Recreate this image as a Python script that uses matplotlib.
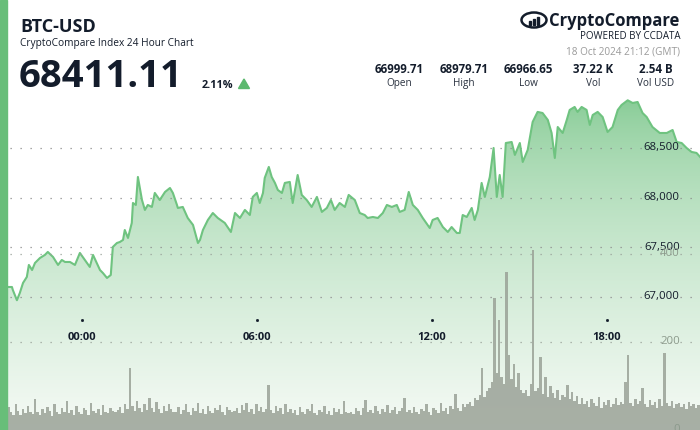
import numpy as np
import matplotlib.pyplot as plt
from matplotlib.patches import Rectangle, Polygon, Ellipse
from matplotlib.colors import to_rgb

plt.rcParams['font.family'] = ['Open Sans', 'DejaVu Sans']

# hours relative to 00:00 GMT on 18 Oct 2024 (chart ends 21:12)
hours = [-2.81, -2.57, -2.40, -2.37, -2.23, -2.13, -2.02, -1.89, -1.82, -1.71,
         -1.61, -1.44, -1.27, -1.17, -0.99, -0.82, -0.69, -0.58, -0.41, -0.24,
         -0.07, 0.10, 0.27, 0.38, 0.51, 0.62, 0.72, 0.86, 0.99, 1.06,
         1.20, 1.30, 1.41, 1.47, 1.58, 1.71, 1.75, 1.85, 1.92, 2.06,
         2.16, 2.26, 2.40, 2.50, 2.67, 2.85, 3.02, 3.12, 3.26, 3.29,
         3.46, 3.63, 3.81, 3.98, 4.05, 4.15, 4.32, 4.49, 4.66, 4.90,
         5.11, 5.25, 5.42, 5.59, 5.76, 5.86, 6.00, 6.10, 6.21, 6.27,
         6.41, 6.51, 6.62, 6.72, 6.86, 6.96, 7.13, 7.23, 7.40, 7.54,
         7.71, 7.88, 8.06, 8.23, 8.40, 8.54, 8.67, 8.84, 9.02, 9.15,
         9.36, 9.53, 9.70, 9.80, 9.98, 10.15, 10.32, 10.46, 10.63, 10.80,
         10.90, 11.07, 11.21, 11.35, 11.52, 11.69, 11.93, 12.03, 12.20, 12.38,
         12.55, 12.68, 12.86, 12.96, 13.06, 13.20, 13.37, 13.47, 13.58, 13.71,
         13.82, 13.99, 14.12, 14.23, 14.33, 14.43, 14.54, 14.74, 14.85, 15.02,
         15.12, 15.29, 15.46, 15.63, 15.80, 15.98, 16.11, 16.22, 16.32, 16.49,
         16.63, 16.73, 16.90, 17.00, 17.14, 17.31, 17.42, 17.52, 17.69, 17.86,
         18.03, 18.20, 18.38, 18.51, 18.72, 18.89, 19.06, 19.23, 19.37, 19.57,
         19.82, 20.06, 20.26, 20.40, 20.57, 20.74, 20.91, 21.08, 21.20]
prices = [67000, 67100, 67100, 67070, 66967, 67040, 67141, 67201, 67322, 67271,
          67342, 67392, 67423, 67453, 67402, 67322, 67372, 67352, 67352, 67322,
          67443, 67372, 67302, 67423, 67342, 67271, 67241, 67191, 67221, 67503,
          67543, 67553, 67574, 67674, 67594, 67745, 67946, 67926, 68208, 67976,
          67876, 67926, 67906, 68047, 67976, 68057, 68097, 68047, 67926, 67896,
          67906, 67795, 67725, 67543, 67574, 67674, 67775, 67845, 67795, 67745,
          67654, 67845, 67795, 67876, 67825, 68007, 68047, 67946, 68047, 68198,
          68309, 68208, 68148, 68077, 68047, 68148, 68158, 67946, 68228, 68027,
          67976, 67906, 68007, 67856, 67896, 67976, 67876, 67946, 67906, 68027,
          67976, 67845, 67825, 67795, 67805, 67795, 67845, 67926, 67906, 67926,
          67856, 67876, 68057, 67926, 67876, 67795, 67694, 67775, 67795, 67704,
          67654, 67704, 67644, 67644, 67825, 67805, 67896, 67775, 67876, 68148,
          68007, 68208, 68500, 68007, 68228, 68007, 68550, 68560, 68430, 68550,
          68359, 68480, 68762, 68863, 68852, 68782, 68651, 68399, 68711, 68651,
          68782, 68883, 68913, 68863, 68913, 68883, 68732, 68832, 68863, 68812,
          68661, 68711, 68883, 68933, 68980, 68953, 68963, 68852, 68812, 68711,
          68651, 68651, 68681, 68560, 68550, 68500, 68460, 68450, 68411.11]

# 5 minute volume buckets (BTC), starting 21:12 the day before
volumes = [38, 45, 30, 52, 41, 35, 60, 44, 33, 48, 39, 55, 42, 36, 70, 40, 34, 47, 38, 52, 44, 31, 58, 40,
           36, 49, 42, 65, 38, 45, 33, 54, 41, 37, 50, 46, 35, 62, 43, 39, 48, 34, 57, 42, 38, 51, 44, 40,
           45, 52, 38, 60, 47, 142, 55, 43, 66, 49, 40, 58, 45, 72, 50, 41, 63, 47, 39, 55, 44, 60, 48, 42,
           40, 53, 37, 46, 58, 42, 35, 50, 44, 61, 39, 47, 36, 55, 43, 38, 49, 45, 57, 40, 34, 52, 46, 41,
           43, 50, 38, 56, 45, 62, 41, 48, 37, 59, 44, 52, 40, 47, 102, 46, 39, 55, 43, 50, 36, 58, 42, 47,
           38, 45, 34, 52, 41, 36, 48, 43, 60, 39, 35, 46, 42, 54, 37, 44, 33, 50, 40, 47, 36, 66, 41, 38,
           42, 37, 49, 44, 35, 51, 68, 40, 46, 38, 55, 43, 36, 48, 41, 57, 39, 45, 52, 37, 44, 50, 72, 41,
           46, 39, 53, 42, 36, 48, 44, 58, 40, 35, 51, 45, 38, 62, 43, 49, 37, 55, 47, 82, 50, 44, 60, 52,
           58, 64, 55, 72, 68, 80, 140, 75, 88, 95, 110, 300, 130, 250, 120, 105, 360, 170, 115, 150, 98, 130, 92, 85,
           90, 78, 105, 410, 88, 95, 165, 82, 120, 76, 100, 85, 72, 92, 68, 80, 74, 102, 70, 86, 65, 78, 60, 72,
           58, 66, 52, 70, 61, 55, 74, 50, 63, 57, 68, 53, 60, 72, 56, 64, 59, 110, 170, 62, 55, 70, 58, 66,
           95, 60, 52, 68, 57, 63, 50, 71, 55, 175, 61, 54, 66, 49, 58, 62, 52, 60, 47, 64, 55, 58, 50, 56]

price_ticks = [67000, 67500, 68000, 68500]
vol_ticks = [0, 200, 400]
time_ticks = [0, 6, 12, 18]
time_labels = ["00:00", "06:00", "12:00", "18:00"]

stat_values = ["66999.71", "68979.71", "66966.65", "37.22 K", "2.54 B"]
stat_names = ["Open", "High", "Low", "Vol", "Vol USD"]
last_price = "68411.11"
change = "2.11%"

DARK = "#131c2b"
GREEN = "#68be79"
W, H = 700, 430
T0, T1 = -2.81, 21.2
P0, P1 = 65660, 69990


def fx(x):
    return x / W


def fy(y):
    return 1 - y / H


fig = plt.figure(figsize=(7, 4.3), dpi=100)
ax = fig.add_axes([0, 0, 1, 1])

# gradient area under the price line
top = np.array(to_rgb("#7cc78c"))
bot = np.array(to_rgb("#f5faf5"))
f = np.linspace(0, 1, 256)[:, None] ** 0.6
grad = (top + (bot - top) * f)[:, None, :]
img = ax.imshow(grad, extent=[T0, T1, P0, 69050], aspect="auto", origin="upper", zorder=1)
area = ax.fill_between(hours, prices, P0, color="none")
img.set_clip_path(area.get_paths()[0], ax.transData)

ax.plot(hours, prices, color="#6fc380", lw=1.5, zorder=3, solid_joinstyle="round")

for p in price_ticks:
    ax.axhline(p, color="#8c8c8c", lw=0.9, ls=(0, (1, 7)), zorder=2)
    ax.text(0.971, p, f"{p:,}", transform=ax.get_yaxis_transform(), ha="right", va="center",
            fontsize=8.2, color=DARK, zorder=5)

for h, lab in zip(time_ticks, time_labels):
    ax.text(h, fy(337), lab, transform=ax.get_xaxis_transform(), ha="center", va="center",
            fontsize=8, fontweight="bold", color=DARK, zorder=5)
    ax.plot([h], [fy(320)], transform=ax.get_xaxis_transform(), marker="s", ms=1.0,
            color=DARK, zorder=5)

ax.set_xlim(T0, T1)
ax.set_ylim(P0, P1)
ax.axis("off")

# volume on a second scale
ax2 = ax.twinx()
vol_times = T0 + np.arange(len(volumes)) * 5 / 60
ax2.bar(vol_times, volumes, width=5 / 60, align="edge", color="#9aa297", alpha=0.85, lw=0)
for v in vol_ticks[1:]:
    ax2.axhline(v, color="#9aa39a", lw=0.9, ls=(0, (1, 7)))
for v in vol_ticks:
    ax2.text(0.971, v, str(v), transform=ax2.get_yaxis_transform(), ha="right", va="center",
             fontsize=8.2, color="#8c9a8c")
ax2.set_xlim(T0, T1)
ax2.set_ylim(0, 977)
ax2.axis("off")

# left accent bar
fig.add_artist(Rectangle((0, 0), fx(7), 1, transform=fig.transFigure, color=GREEN, zorder=10))

# header
fig.text(fx(20), fy(32), "BTC-USD", fontsize=13, fontweight="bold", color=DARK)
fig.text(fx(20), fy(46), "CryptoCompare Index 24 Hour Chart", fontsize=7.3, color=DARK)
fig.text(fx(19), fy(87), last_price, fontsize=27.5, fontweight="bold", color=DARK)
fig.text(fx(202), fy(88), change, fontsize=7.8, fontweight="bold", color=DARK)
fig.add_artist(Polygon([(fx(238.5), fy(88.5)), (fx(249.5), fy(88.5)), (fx(244), fy(79))],
                       closed=True, transform=fig.transFigure, color="#5cb96e"))

# stats
stat_x = [399, 464, 528, 593, 656]
for x, val, name in zip(stat_x, stat_values, stat_names):
    fig.text(fx(x), fy(73), val, fontsize=8.3, fontweight="bold", color=DARK, ha="center")
    fig.text(fx(x), fy(86), name, fontsize=7.2, color="#2a3240", ha="center")

# logo
fig.add_artist(Ellipse((fx(534), fy(20)), fx(25), 15 / H, transform=fig.transFigure,
                       fill=False, ec=DARK, lw=1.8))
for bx, bh in [(529, 4), (533, 6), (537, 8)]:
    fig.add_artist(Rectangle((fx(bx), fy(25)), fx(2.2), bh / H, transform=fig.transFigure,
                             color=DARK))
fig.text(fx(679), fy(26), "CryptoCompare", fontsize=12, fontweight="bold", color=DARK, ha="right")
fig.text(fx(680), fy(39), "POWERED BY CCDATA", fontsize=7, color=DARK, ha="right")
fig.text(fx(680), fy(54), "18 Oct 2024 21:12 (GMT)", fontsize=7.2, color="#9a9a9a", ha="right")

fig.savefig("out.png", dpi=100)
